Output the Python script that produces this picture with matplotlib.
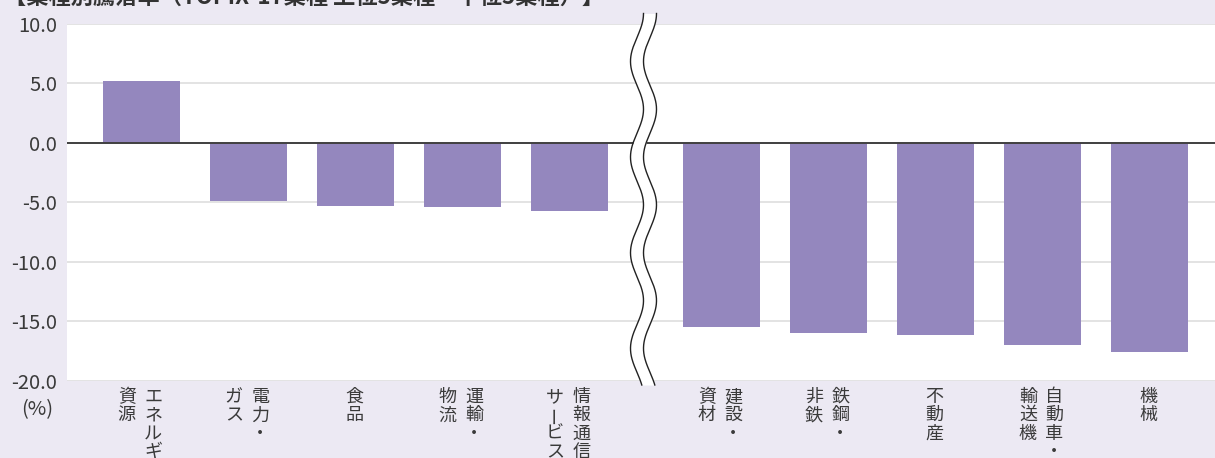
import numpy as np
import matplotlib
matplotlib.use("Agg")
import matplotlib.pyplot as plt
from matplotlib.transforms import blended_transform_factory

plt.rcParams['font.family'] = ['Noto Sans CJK JP', 'DejaVu Sans']

# ---- data ----
title = "【業種別騰落率（TOPIX-17業種 上位5業種・下位5業種）】"
categories = ["エネルギー資源", "電力・ガス", "食品", "運輸・物流", "情報通信・サービス他",
              "建設・資材", "鉄鋼・非鉄", "不動産", "自動車・輸送機", "機械"]
# vertical label columns, rightmost column first
label_columns = [["エネルギー", "資源"], ["電力・", "ガス"], ["食品"], ["運輸・", "物流"],
                 ["情報通信・", "サービス他"], ["建設・", "資材"], ["鉄鋼・", "非鉄"],
                 ["不動産"], ["自動車・", "輸送機"], ["機械"]]
values = [5.2, -4.9, -5.3, -5.4, -5.7, -15.5, -16.0, -16.1, -17.0, -17.6]
yticks = [10.0, 5.0, 0.0, -5.0, -10.0, -15.0, -20.0]
unit_label = "(%)"

# ---- style ----
BG = "#ECE9F3"
BAR = "#9487BE"
TXT = "#3a3a3a"
W, H = 1215, 458

fig = plt.figure(figsize=(W / 100, H / 100), dpi=100, facecolor=BG)
ax = fig.add_axes([67 / W, 1 - 381 / H, 1 - 67 / W, (381 - 23.5) / H])
ax.set_facecolor("white")

gap = 0.42
xpos = [i if i < 5 else i + gap for i in range(len(values))]
ax.bar(xpos, values, width=0.72, color=BAR, zorder=2)
ax.axhline(0, color="#404040", lw=1.4, zorder=3)

ax.set_ylim(-20, 10)
ax.set_xlim(-0.695, 9 + gap + 0.612)
ax.set_yticks(yticks)
ax.set_yticklabels([f"{v:.1f}" for v in yticks], fontsize=14.5, color=TXT)
ax.tick_params(axis="y", length=0, pad=7)
ax.set_xticks([])
ax.grid(axis="y", color="#DEDEDE", lw=1.2, zorder=0)
for s in ax.spines.values():
    s.set_visible(False)

# unit label under the y axis
ax.text(-0.012, -0.08, unit_label, transform=ax.transAxes, ha="right", va="center",
        fontsize=14.5, color=TXT)

# vertical category labels
trans = blended_transform_factory(ax.transData, ax.transAxes)
col_off = 9.5   # points
step = 13.2     # points
first = 11.5    # points below axis
for x, cols in zip(xpos, label_columns):
    n = len(cols)
    for ci, col in enumerate(cols):
        dx = -1.0 if n == 1 else (col_off - 1.0 if ci == 0 else -col_off - 1.0)
        for k, ch in enumerate(col):
            rot = 90 if ch == "ー" else 0
            ax.annotate(ch, xy=(x, 0), xycoords=trans, xytext=(dx, -(first + k * step)),
                        textcoords="offset points", ha="center", va="center",
                        fontsize=13, color=TXT, rotation=rot, annotation_clip=False)

# title (partially cut off at the top, as in the reference)
fig.text(4 / W, 1 - 9 / H, title, ha="left", va="bottom", fontsize=16,
         fontweight="bold", color="#333333")

# wavy break marker
ov = fig.add_axes([0, 0, 1, 1], facecolor="none")
ov.set_xlim(0, W)
ov.set_ylim(H, 0)
ov.axis("off")
yy = np.linspace(13.5, 385, 400)
xc = 643.5
amp = 6.5
per = 95.7
wave = amp * np.cos(2 * np.pi * (yy - 13.5) / per)
xl = xc - 6.5 + wave
xr = xc + 6.5 + wave
ov.fill_betweenx(yy, xl, xr, color="white", lw=0, zorder=5)
ov.plot(xl, yy, color="#222222", lw=1.0, zorder=6)
ov.plot(xr, yy, color="#222222", lw=1.0, zorder=6)

fig.savefig("out.png", dpi=100, facecolor=BG)
